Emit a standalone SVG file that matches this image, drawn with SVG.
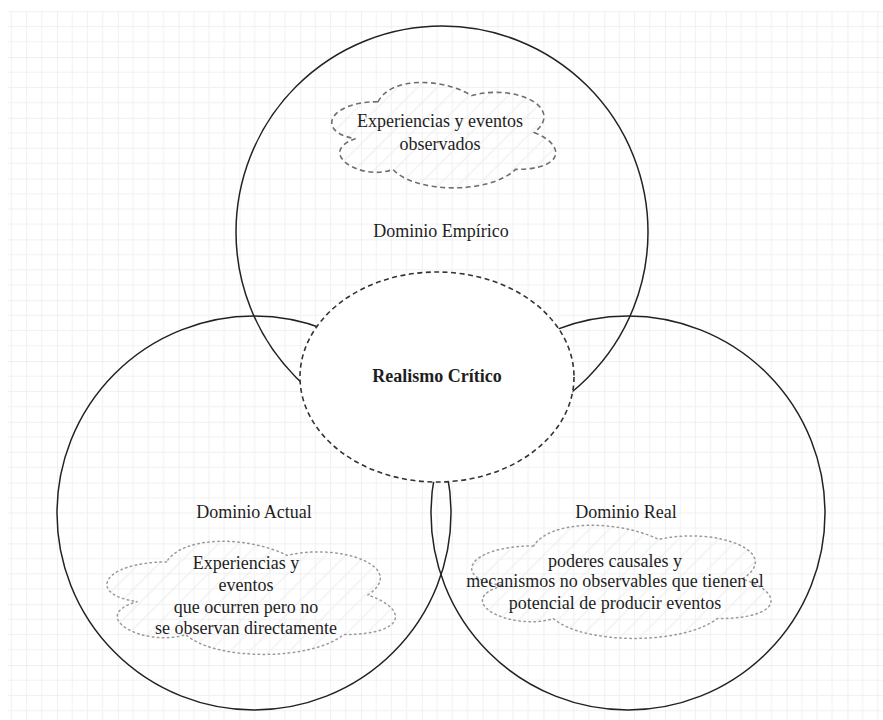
<svg xmlns="http://www.w3.org/2000/svg" width="883" height="720" viewBox="0 0 883 720">
  <defs>
    <pattern id="grid" patternUnits="userSpaceOnUse" x="57" y="57" width="60.8" height="60.8">
      <path d="M15.2 0V60.8M30.4 0V60.8M45.6 0V60.8M0 15.2H60.8M0 30.4H60.8M0 45.6H60.8" stroke="#f1f1f1" stroke-width="1" fill="none"/>
      <path d="M0 0V60.8M0 0H60.8" stroke="#e2e2e2" stroke-width="1" fill="none"/>
    </pattern>
    <pattern id="hatch" patternUnits="userSpaceOnUse" width="14" height="14" patternTransform="rotate(-45)">
      <line x1="0" y1="7" x2="14" y2="7" stroke="#ececec" stroke-width="1"/>
    </pattern>
  </defs>
  <style>
    .t{font-family:"Liberation Serif","Times New Roman",serif;font-size:18px;fill:#1e1e1e;text-anchor:middle}
    .b{font-weight:bold}
    .circ{fill:none;stroke:#222;stroke-width:1.5}
    .dash{fill:url(#hatch);stroke:#6e6e6e;stroke-width:1.6;stroke-dasharray:5 3.5}
    .dot{fill:url(#hatch);stroke:#9a9a9a;stroke-width:1.5;stroke-dasharray:1.5 3.5;stroke-linecap:round}
    .center{fill:#fff;stroke:#333;stroke-width:1.6;stroke-dasharray:5 3.5}
  </style>
  <rect x="0" y="0" width="883" height="720" fill="#fff"/>
  <rect x="8" y="11" width="875" height="709" fill="url(#grid)"/>

  <g id="dominio-empirico">
    <circle class="circ" cx="442" cy="232" r="206"/>
    <text class="t" x="441" y="237">Dominio Empírico</text>
  </g>
  <g id="dominio-actual">
    <circle class="circ" cx="254" cy="513" r="197"/>
    <text class="t" x="254" y="518">Dominio Actual</text>
  </g>
  <g id="dominio-real">
    <circle class="circ" cx="628" cy="513" r="197"/>
    <text class="t" x="626" y="518">Dominio Real</text>
  </g>
  <g id="realismo-critico">
    <ellipse class="center" cx="437" cy="377" rx="137" ry="105"/>
    <text class="t b" x="437" y="382">Realismo Crítico</text>
  </g>
  <g id="nube-empirico">
    <path class="dash" d="M378 101.75C328 101.75 315.5 132.5 355.5 138.65C315.5 152.2 360.5 181.7 393 169.4C415.5 194 490.5 194 515.5 169.4C565.5 169.4 565.5 144.8 534.25 132.5C565.5 107.9 515.5 83.3 471.75 95.6C440.5 77.15 390.5 77.15 378 101.75Z"/>
    <text class="t" x="440" y="127">Experiencias y eventos</text>
    <text class="t" x="440" y="149.5">observados</text>
  </g>
  <g id="nube-actual">
    <path class="dot" d="M166.5 562C102.1 562 86 595 137.5 601.6C86 616.1 144 647.8 185.8 634.6C214.8 661 311.4 661 343.6 634.6C408 634.6 408 608.2 367.75 595C408 568.6 343.6 542.2 287.25 555.4C247 535.6 182.6 535.6 166.5 562Z"/>
    <text class="t" x="246" y="569">Experiencias y</text>
    <text class="t" x="246" y="591">eventos</text>
    <text class="t" x="246" y="613">que ocurren pero no</text>
    <text class="t" x="246" y="634">se observan directamente</text>
  </g>
  <g id="nube-real">
    <path class="dot" d="M533.5 546C466.7 546 450 579 503.4 585.6C450 600.1 510.1 631.8 553.5 618.6C583.6 645 683.8 645 717.2 618.6C784 618.6 784 592.2 742.25 579C784 552.6 717.2 526.2 658.75 539.4C617 519.6 550.2 519.6 533.5 546Z"/>
    <text class="t" x="615" y="566.5">poderes causales y</text>
    <text class="t" x="615" y="587">mecanismos no observables que tienen el</text>
    <text class="t" x="615" y="609">potencial de producir eventos</text>
  </g>
  <g id="connectors"/>
</svg>
